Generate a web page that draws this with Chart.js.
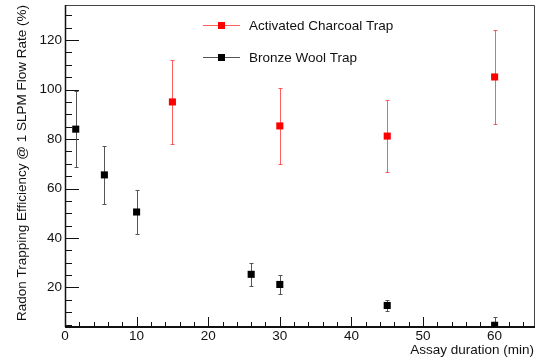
<!DOCTYPE html>
<html>
<head>
<meta charset="utf-8">
<script src="https://cdn.jsdelivr.net/npm/chart.js@4.4.1/dist/chart.umd.min.js"></script>
<style>
html,body{margin:0;padding:0;background:#fff}
</style>
</head>
<body>
<canvas id="chart" width="544" height="358"></canvas>
<script>
// values
const charcoalX = [15, 30, 45, 60];
const charcoalY = [95, 85.3, 81.2, 105.1];
const charcoalErr = [17, 15.4, 14.7, 19];

const bronzeX = [1.5, 5.5, 10, 26, 30, 45, 60];
const bronzeY = [84, 65.5, 50.5, 25.3, 21.2, 12.7, 4.7];
const bronzeErr = [15.3, 11.7, 9, 4.7, 3.8, 2.4, 3.3];

const xTicks = [0, 10, 20, 30, 40, 50, 60];
const yTicks = [20, 40, 60, 80, 100, 120];

const seriesNames = ["Activated Charcoal Trap", "Bronze Wool Trap"];

const FONT = "'Liberation Sans', Arial, sans-serif";
Chart.defaults.font.family = FONT;
Chart.defaults.color = "#111";

// vertical error bars, drawn under the markers
const errorBars = {
  id: "errorBars",
  beforeDatasetsDraw(chart) {
    const { ctx, chartArea: a, scales: { x, y } } = chart;
    ctx.save();
    ctx.beginPath();
    ctx.rect(a.left, a.top, a.right - a.left, a.bottom - a.top);
    ctx.clip();
    chart.data.datasets.forEach(ds => {
      ctx.strokeStyle = ds.errColor;
      ctx.lineWidth = 1;
      ds.data.forEach((p, i) => {
        const px = Math.round(x.getPixelForValue(p.x)) + 0.5;
        const t = Math.round(y.getPixelForValue(p.y + ds.err[i])) + 0.5;
        const b = Math.round(y.getPixelForValue(p.y - ds.err[i])) + 0.5;
        ctx.beginPath();
        ctx.moveTo(px, t); ctx.lineTo(px, b);
        ctx.moveTo(px - 2, t); ctx.lineTo(px + 2, t);
        ctx.moveTo(px - 2, b); ctx.lineTo(px + 2, b);
        ctx.stroke();
      });
    });
    ctx.restore();
  }
};

// ROOT style frame with ticks pointing inward
const frame = {
  id: "frame",
  beforeDatasetsDraw(chart) {
    const { ctx, chartArea: a, scales: { x, y } } = chart;
    ctx.save();
    ctx.strokeStyle = "#444";
    ctx.lineWidth = 1;
    ctx.beginPath();
    ctx.moveTo(a.left, a.top + 0.5); ctx.lineTo(a.right + 0.5, a.top + 0.5);
    ctx.lineTo(a.right + 0.5, a.bottom);
    ctx.stroke();

    ctx.strokeStyle = "#111";
    ctx.lineWidth = 1.5;
    ctx.beginPath();
    ctx.moveTo(a.left + 0.5, a.top); ctx.lineTo(a.left + 0.5, a.bottom);
    ctx.stroke();
    ctx.lineWidth = 2;
    ctx.beginPath();
    ctx.moveTo(a.left, a.bottom); ctx.lineTo(a.right + 1, a.bottom);
    ctx.stroke();

    ctx.lineWidth = 1;
    ctx.beginPath();
    for (let v = 5; v <= y.max; v += 5) {
      if (v < y.min) continue;
      const py = Math.round(y.getPixelForValue(v)) + 0.5;
      const len = v % 20 === 0 ? 14 : 7;
      ctx.moveTo(a.left, py); ctx.lineTo(a.left + len, py);
    }
    for (let v = 2; v <= x.max; v += 2) {
      const px = Math.round(x.getPixelForValue(v)) + 0.5;
      const len = v % 10 === 0 ? 10 : 5;
      ctx.moveTo(px, a.bottom); ctx.lineTo(px, a.bottom - len);
    }
    ctx.stroke();
    ctx.restore();
  }
};

const legendBox = {
  id: "legendBox",
  afterDraw(chart) {
    const { ctx } = chart;
    ctx.save();
    ctx.font = "13.5px " + FONT;
    ctx.textBaseline = "middle";
    chart.data.datasets.forEach((ds, i) => {
      const ly = 25 + i * 32;
      ctx.strokeStyle = ds.errColor;
      ctx.lineWidth = 1;
      ctx.beginPath();
      ctx.moveTo(203, ly + 0.5); ctx.lineTo(240, ly + 0.5);
      ctx.stroke();
      ctx.fillStyle = ds.backgroundColor;
      ctx.fillRect(218, ly - 3, 7, 7);
      ctx.fillStyle = "#111";
      ctx.fillText(seriesNames[i], 249, ly + 1);
    });
    ctx.restore();
  }
};

const ctx = document.getElementById("chart");
new Chart(ctx, {
  type: "scatter",
  data: {
    datasets: [
      {
        label: seriesNames[0],
        data: charcoalX.map((v, i) => ({ x: v, y: charcoalY[i] })),
        err: charcoalErr,
        errColor: "rgba(255,40,40,0.75)",
        backgroundColor: "#ff0000",
        borderColor: "#ff0000",
        borderWidth: 0,
        pointStyle: "rect",
        pointRadius: 5
      },
      {
        label: seriesNames[1],
        data: bronzeX.map((v, i) => ({ x: v, y: bronzeY[i] })),
        err: bronzeErr,
        errColor: "#555",
        backgroundColor: "#000",
        borderColor: "#000",
        borderWidth: 0,
        pointStyle: "rect",
        pointRadius: 5
      }
    ]
  },
  options: {
    responsive: false,
    animation: false,
    devicePixelRatio: 1,
    layout: { padding: { top: 5, right: 10, left: 0, bottom: 0 } },
    plugins: {
      legend: { display: false },
      tooltip: { enabled: false }
    },
    scales: {
      x: {
        type: "linear",
        min: 0,
        max: 65.5,
        afterBuildTicks: s => { s.ticks = xTicks.map(v => ({ value: v })); },
        afterFit: s => { s.height = 31; },
        grid: { display: false, drawTicks: false },
        border: { display: false },
        ticks: { padding: 1, maxRotation: 0, font: { size: 13.5 } },
        title: {
          display: true,
          text: "Assay duration (min)",
          align: "end",
          font: { size: 13.5 },
          padding: { top: 0, bottom: 0 }
        }
      },
      y: {
        type: "linear",
        min: 4,
        max: 134.2,
        afterBuildTicks: s => { s.ticks = yTicks.map(v => ({ value: v })); },
        afterFit: s => { s.width = 65; s.paddingTop = 0; s.paddingBottom = 0; },
        grid: { display: false, drawTicks: false },
        border: { display: false },
        ticks: { padding: 3, font: { size: 13.5 } },
        title: {
          display: true,
          text: "Radon Trapping Efficiency @ 1 SLPM Flow Rate (%)",
          align: "end",
          font: { size: 13.5 },
          padding: { top: 14, bottom: 0 }
        }
      }
    }
  },
  plugins: [frame, errorBars, legendBox]
});
</script>
</body>
</html>
